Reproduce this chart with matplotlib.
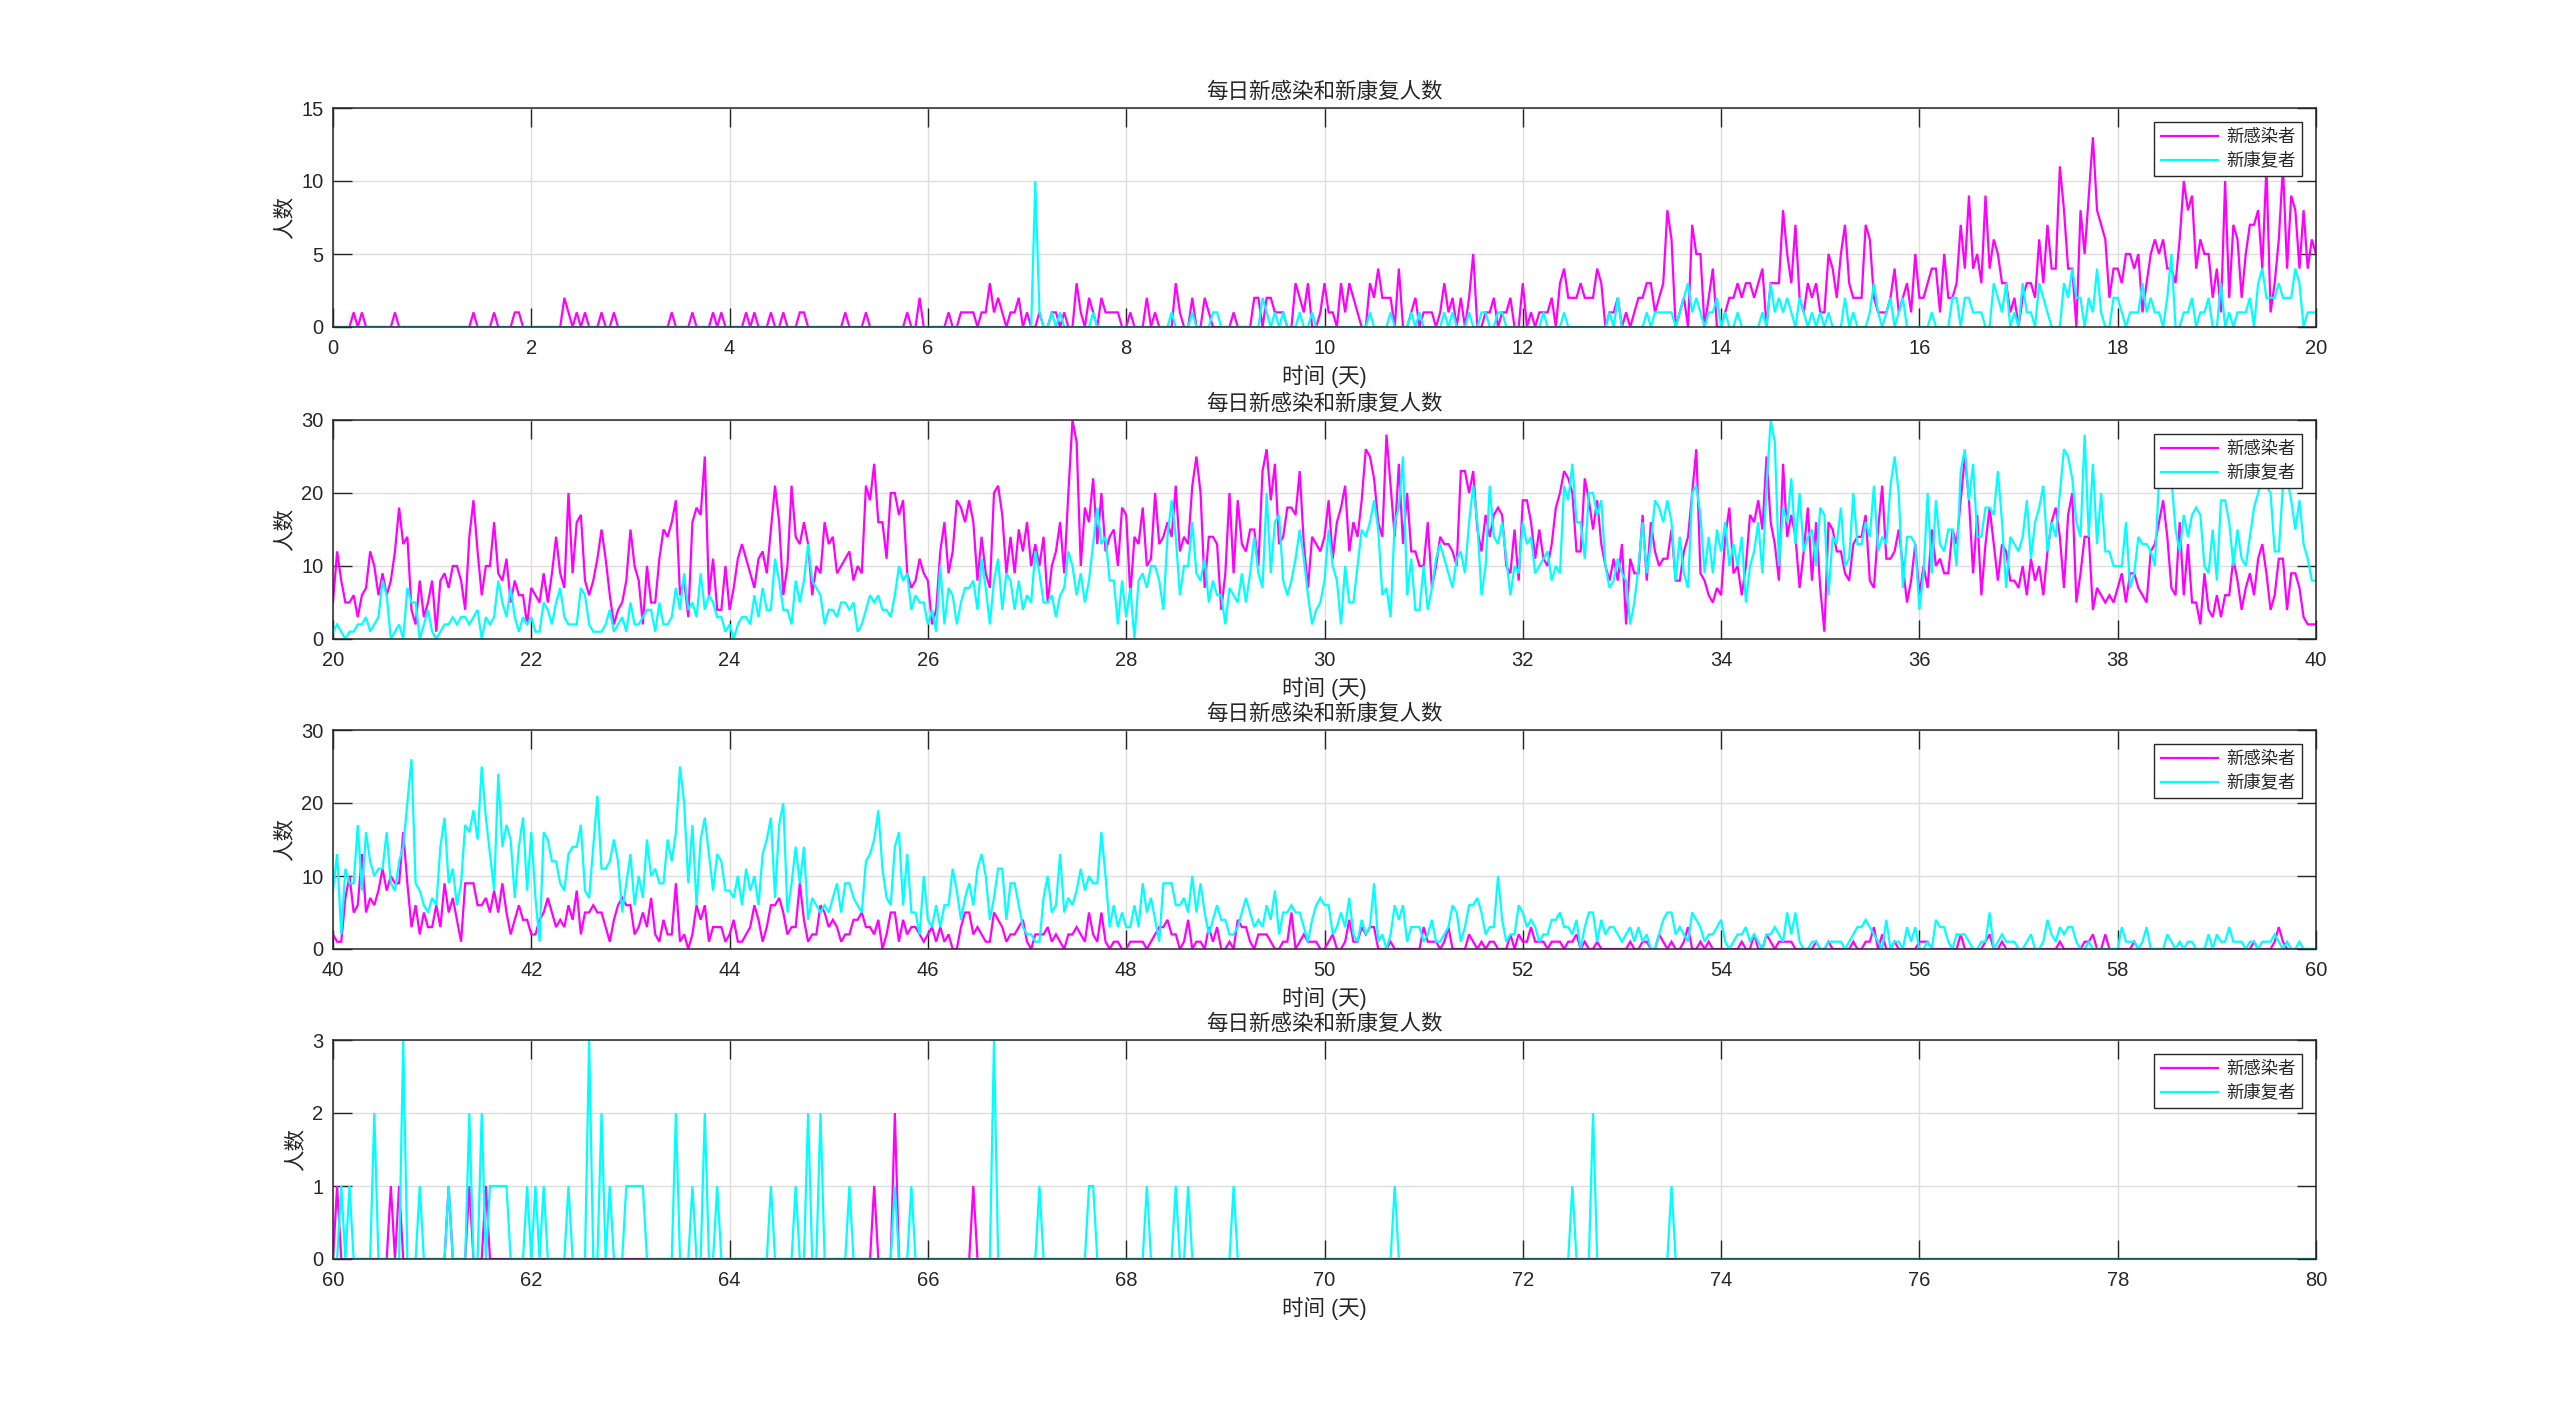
import numpy as np
import matplotlib
matplotlib.use("Agg")
import matplotlib.pyplot as plt

plt.rcParams['font.family'] = ['Liberation Sans', 'Noto Sans CJK SC', 'DejaVu Sans']

# ---------------- data (hourly samples, 24 per day) ----------------
TITLE = "每日新感染和新康复人数"
XLABEL = "时间 (天)"
YLABEL = "人数"
LABEL_INF = "新感染者"
LABEL_REC = "新康复者"
STEPS_PER_DAY = 24

# panel 1 : days 0-20
inf_0_20 = [
    0,0,0,0,0,1,0,1,0,0,0,0,0,0,0,1,0,0,0,0,0,0,0,0,
    0,0,0,0,0,0,0,0,0,0,1,0,0,0,0,1,0,0,0,0,1,1,0,0,
    0,0,0,0,0,0,0,0,2,1,0,1,0,1,0,0,0,1,0,0,1,0,0,0,
    0,0,0,0,0,0,0,0,0,0,1,0,0,0,0,1,0,0,0,0,1,0,1,0,
    0,0,0,0,1,0,1,0,0,0,1,0,0,1,0,0,0,1,1,0,0,0,0,0,
    0,0,0,0,1,0,0,0,0,1,0,0,0,0,0,0,0,0,0,1,0,0,2,0,
    0,0,0,0,0,1,0,0,1,1,1,1,0,1,1,3,1,2,1,0,1,1,2,0,
    1,0,0,1,0,0,1,1,0,1,0,0,3,1,0,2,1,0,2,1,1,1,1,0,
    0,1,0,0,0,2,0,1,0,0,0,0,3,1,0,0,2,0,0,2,1,0,0,0,
    0,0,1,0,0,0,0,2,2,0,2,2,1,1,1,0,0,3,2,1,3,0,0,1,
    3,1,1,0,3,1,3,2,1,0,0,3,2,4,2,2,2,0,4,0,0,1,2,0,
    1,1,1,0,1,3,1,2,0,2,0,2,5,0,0,1,1,2,0,1,1,2,0,0,
    3,0,1,0,1,1,1,2,0,3,4,2,2,2,3,2,2,2,4,3,0,1,1,2,
    0,1,0,1,2,2,3,3,1,2,3,8,6,0,1,2,0,7,5,5,0,2,4,0,
    0,1,2,2,3,2,3,3,2,3,4,0,3,3,3,8,5,3,7,2,1,3,2,3,
    1,1,5,4,2,5,7,3,2,2,2,7,6,2,1,1,1,2,4,1,2,3,1,5,
    2,2,3,4,4,1,5,2,2,3,7,4,9,4,5,3,9,4,6,5,3,3,1,2,
    0,2,3,3,2,6,3,7,4,4,11,8,4,4,0,8,5,9,13,8,7,6,2,4,
    4,3,5,5,4,5,1,3,5,6,5,6,4,4,3,6,10,8,9,4,6,5,5,2,
    4,1,10,2,7,6,2,5,7,7,8,4,11,1,3,6,11,4,9,8,4,8,4,6,
    5]
rec_0_20 = [
    0,0,0,0,0,0,0,0,0,0,0,0,0,0,0,0,0,0,0,0,0,0,0,0,
    0,0,0,0,0,0,0,0,0,0,0,0,0,0,0,0,0,0,0,0,0,0,0,0,
    0,0,0,0,0,0,0,0,0,0,0,0,0,0,0,0,0,0,0,0,0,0,0,0,
    0,0,0,0,0,0,0,0,0,0,0,0,0,0,0,0,0,0,0,0,0,0,0,0,
    0,0,0,0,0,0,0,0,0,0,0,0,0,0,0,0,0,0,0,0,0,0,0,0,
    0,0,0,0,0,0,0,0,0,0,0,0,0,0,0,0,0,0,0,0,0,0,0,0,
    0,0,0,0,0,0,0,0,0,0,0,0,0,0,0,0,0,0,0,0,0,0,0,0,
    0,0,10,1,0,0,1,0,1,0,0,0,0,0,0,0,1,0,0,0,0,0,0,0,
    0,0,0,0,0,0,0,0,0,0,0,1,0,0,0,0,1,0,0,0,0,1,1,0,
    0,0,0,0,0,0,0,0,0,2,1,0,1,0,1,0,0,0,1,0,0,1,0,0,
    0,0,0,0,0,0,0,0,0,0,0,1,0,0,0,0,1,0,0,0,0,1,0,1,
    0,0,0,0,0,1,0,1,0,0,0,1,0,0,1,1,0,0,1,1,0,0,0,0,
    0,0,0,0,0,1,0,0,0,0,1,0,0,0,0,0,0,0,0,0,0,1,0,2,
    0,0,0,0,0,0,1,0,1,1,1,1,1,0,1,2,3,1,2,1,0,1,1,2,
    0,1,0,0,1,0,0,0,0,0,1,0,3,1,2,1,2,1,0,2,1,0,1,0,
    1,0,1,0,0,0,2,0,1,0,0,0,1,3,1,0,1,2,0,1,2,0,0,0,
    0,0,0,1,0,0,0,0,2,2,0,2,2,1,1,1,0,0,3,2,1,3,0,1,
    0,3,1,1,0,3,2,1,0,0,0,3,2,4,2,2,0,2,1,4,1,0,0,2,
    2,1,0,1,1,1,3,1,2,1,1,0,2,5,0,0,1,1,2,0,1,1,2,0,
    0,3,0,1,0,1,1,1,2,0,3,4,2,2,2,3,2,2,2,4,3,0,1,1,
    1]

# panel 2 : days 20-40
inf_20_40 = [
    5,12,8,5,5,6,3,6,7,12,10,6,9,6,8,12,18,13,14,4,2,8,3,5,8,1,8,9,7,10,10,8,4,14,19,12,6,10,10,16,
    9,8,11,5,8,6,6,2,7,6,5,9,5,9,14,9,7,20,9,16,17,8,6,8,11,15,11,6,2,4,5,8,15,10,8,2,10,5,5,11,
    15,14,16,19,6,8,3,16,18,17,25,6,11,4,4,10,4,
    7,11,13,11,9,7,11,12,9,15,21,16,6,10,21,14,13,16,13,6,10,9,16,13,14,9,10,11,12,8,10,9,21,19,24,16,
    16,11,20,20,17,19,9,7,8,11,9,8,2,4,12,16,9,12,19,18,16,19,16,8,14,9,7,20,21,17,9,14,9,15,12,16,
    10,13,10,14,5,10,12,16,9,20,30,27,10,18,16,22,13,20,12,14,15,10,18,17,
    6,14,13,18,10,11,20,13,14,16,14,21,12,14,13,21,25,20,7,14,14,13,4,9,20,9,19,13,12,15,15,10,23,26,
    19,24,13,14,18,18,17,23,13,7,14,13,12,14,19,11,16,18,21,12,16,14,19,26,25,22,16,14,28,21,14,24,
    13,20,12,12,10,10,16,7,10,14,13,13,12,10,23,23,20,23,15,12,17,14,17,18,17,10,9,15,8,19,
    19,16,11,15,11,10,13,18,20,23,22,20,12,12,22,19,15,19,13,10,8,11,8,13,2,11,9,9,17,8,16,12,10,11,
    11,15,8,8,12,14,20,26,9,8,6,5,7,6,14,18,9,10,6,10,17,16,19,15,25,16,13,8,24,14,17,14,7,12,18,8,
    16,7,1,16,15,12,12,9,8,13,14,14,17,8,7,15,21,11,11,12,15,10,5,8,13,6,
    10,7,15,10,11,9,9,15,13,19,25,19,9,17,6,13,18,13,8,13,12,8,8,7,10,6,11,8,10,6,12,16,18,14,7,17,
    20,5,9,14,14,4,7,6,5,6,5,7,9,5,9,9,7,6,5,12,13,16,19,14,7,6,16,6,13,5,5,2,9,4,3,6,3,6,6,11,
    8,4,7,9,6,11,13,9,4,6,11,11,4,9,9,7,3,2,2,2]
rec_20_40 = [
    1,2,1,0,1,1,2,2,3,1,2,3,8,6,0,1,2,0,7,5,5,0,2,4,1,0,1,2,2,3,2,3,3,2,3,4,0,3,2,3,
    8,5,3,7,3,1,3,2,3,1,1,5,4,2,5,7,3,2,2,2,7,6,2,1,1,1,2,4,1,2,3,1,5,2,2,3,4,4,1,5,
    2,2,3,7,4,9,4,5,3,9,4,6,5,3,3,1,2,
    0,2,3,3,2,6,3,7,4,4,11,8,4,4,2,8,5,8,13,8,7,6,2,4,4,3,5,5,4,5,1,2,4,6,5,6,4,4,3,6,
    10,8,9,4,6,5,5,2,4,1,10,2,7,6,2,5,7,7,8,4,11,7,2,8,11,4,9,8,4,8,4,6,5,12,9,5,5,6,3,6,
    7,12,10,6,9,5,8,13,18,13,14,8,8,2,8,3,
    7,0,8,9,7,10,10,8,4,14,19,14,6,10,10,16,9,8,11,5,8,6,6,2,7,6,5,9,5,9,14,9,7,20,9,16,
    17,8,6,8,11,15,11,6,2,4,5,8,15,10,8,2,10,5,5,10,15,14,16,19,15,6,7,3,16,18,25,6,11,4,
    4,10,4,7,11,13,11,9,7,11,12,9,16,21,16,6,10,21,14,13,16,11,6,10,9,16,
    13,14,9,10,11,12,8,10,9,21,19,24,16,16,11,20,20,17,19,10,7,8,11,9,8,2,5,10,16,9,13,19,
    18,16,19,16,8,14,9,7,20,21,17,9,14,9,15,12,16,10,13,10,14,5,10,12,16,9,21,30,27,10,18,16,
    22,13,20,12,14,15,10,18,17,6,14,13,18,10,11,20,13,13,16,14,21,12,14,13,21,25,20,7,14,14,13,4,
    9,20,9,19,13,12,15,15,10,23,26,19,24,14,14,18,18,17,23,16,7,14,13,12,14,19,11,16,18,21,
    12,16,14,20,26,25,22,16,14,28,14,24,13,20,12,12,10,10,10,16,7,9,14,13,13,12,10,22,25,21,
    22,15,12,17,14,17,18,17,10,9,15,8,19,19,16,10,15,11,10,14,18,20,22,21,20,12,12,21,22,19,
    15,19,13,11,8,8]

# panel 3 : days 40-60
inf_40_60 = [
    2,1,1,7,10,5,6,13,5,7,6,8,11,8,10,9,9,16,9,3,6,2,5,3,3,6,3,9,5,7,4,1,9,9,9,6,6,7,5,8,
    5,9,5,2,4,6,4,4,2,2,4,5,7,5,3,4,3,6,4,8,2,5,5,6,5,5,3,1,4,6,7,6,6,2,3,5,3,7,2,1,
    4,2,2,9,1,2,0,2,6,4,6,1,3,3,3,1,2,4,1,1,2,3,6,4,1,3,6,6,7,5,2,3,3,9,4,1,2,2,6,5,
    3,4,3,1,2,2,4,4,5,3,3,2,4,0,2,5,5,1,4,2,3,3,2,1,2,3,1,3,1,2,0,0,3,5,5,2,3,2,1,1,
    5,4,3,1,2,2,3,4,1,0,2,2,2,3,1,2,1,0,2,2,3,2,1,5,2,1,5,1,0,1,1,0,0,1,1,1,1,0,1,2,
    3,3,4,2,2,0,1,4,0,1,1,0,3,1,3,0,0,1,0,4,3,3,1,0,2,2,2,1,0,0,1,1,5,0,1,2,1,1,1,0,
    0,
    1,2,0,0,1,4,1,1,3,2,3,3,0,0,0,1,0,0,0,0,0,0,0,3,1,1,1,0,1,3,0,0,0,0,2,1,0,1,0,1,
    1,0,0,0,2,0,2,1,1,3,1,1,1,0,1,1,1,0,1,1,2,0,1,0,0,1,0,0,0,0,0,0,0,1,0,0,1,1,0,0,
    2,1,0,1,0,0,1,3,0,0,1,0,1,0,0,0,0,0,0,0,1,0,0,2,0,0,2,1,0,1,1,1,1,0,0,0,0,0,1,0,
    0,1,0,0,0,0,0,1,0,0,1,1,3,0,2,0,0,1,0,0,0,0,0,1,1,1,0,0,0,0,0,0,0,2,0,0,0,0,0,1,
    2,0,0,1,0,0,0,0,0,0,0,0,0,0,0,0,0,1,0,0,0,0,0,1,1,2,0,0,2,0,0,0,0,0,0,1,0,0,0,0,
    0,0,0,0,0,0,0,0,0,0,0,0,0,0,0,0,0,0,0,0,0,0,0,0,1,0,0,0,0,1,3,1,0,0,0,0,0,0,0,0]
rec_40_60 = [
    8,13,2,11,9,9,17,8,16,12,10,11,11,16,9,8,12,14,20,26,9,8,6,5,7,6,14,18,9,11,6,9,17,16,19,15,25,18,13,8,
    24,14,17,15,7,14,18,8,16,7,1,16,15,12,12,9,8,13,14,14,17,8,7,14,21,11,11,12,15,12,5,9,13,6,10,7,15,10,11,9,
    9,15,12,16,25,20,9,17,6,15,18,13,8,13,12,8,8,7,10,6,11,8,10,6,13,15,18,7,17,20,5,9,14,9,14,4,7,6,5,6,
    5,7,9,5,9,9,7,6,5,12,13,15,19,11,7,6,14,16,6,13,5,5,2,10,4,3,6,3,6,6,11,8,4,7,9,6,11,13,10,4,
    7,11,11,4,9,9,6,3,2,2,1,1,7,10,5,6,13,5,7,6,8,11,8,10,9,9,16,10,3,6,3,5,3,3,6,3,9,5,7,4,
    1,9,9,9,6,6,7,5,10,5,9,5,2,4,6,4,4,2,2,3,5,7,5,3,4,3,6,4,8,2,5,5,6,5,5,3,1,4,6,7,
    6,
    6,2,3,5,3,7,2,1,4,2,3,9,1,2,0,2,6,4,6,1,3,3,3,1,2,4,1,1,2,3,6,5,1,3,6,6,7,5,2,3,
    3,10,4,1,2,2,6,5,3,4,3,1,2,2,4,4,5,3,3,2,4,0,3,5,5,1,4,2,3,3,2,1,2,3,1,3,1,2,0,0,
    2,4,5,5,2,3,2,1,5,4,3,1,2,2,3,4,1,0,1,2,2,3,1,2,1,0,2,2,3,2,1,5,2,5,1,0,0,1,1,0,
    0,1,1,1,1,0,1,2,3,3,4,3,2,1,0,4,0,1,1,0,3,1,3,0,0,1,0,4,3,3,1,0,2,2,2,1,0,0,1,1,
    5,0,1,2,1,1,1,0,0,1,2,0,0,1,4,2,1,3,2,3,3,1,0,0,1,0,0,0,0,0,0,0,3,1,1,1,0,1,3,0,
    0,0,0,2,1,0,1,0,1,1,0,0,0,2,0,2,1,1,3,1,1,1,0,1,1,0,1,1,1,2,1,0,1,0,0,1,0,0,0,0]

# panel 4 : days 60-80
inf_60_80 = [
    0,1,0,0,0,0,0,0,0,0,0,0,0,0,1,0,1,0,0,0,0,0,0,0,
    0,0,0,0,1,0,0,0,0,1,0,0,0,1,0,0,0,0,0,0,0,0,0,0,
    0,0,0,0,0,0,0,0,0,0,0,0,0,0,0,0,0,0,0,0,0,0,0,0,
    0,0,0,0,0,0,0,0,0,0,0,0,0,0,0,0,0,0,0,0,0,0,0,0,
    0,0,0,0,0,0,0,0,0,0,0,0,0,0,0,0,0,0,0,0,0,0,0,0,
    0,0,0,0,0,0,0,0,0,0,0,1,0,0,0,0,2,0,0,0,0,0,0,0,
    0,0,0,0,0,0,0,0,0,0,0,1,0,0,0,0,0,0,0,0,0,0,0,0,
    0,0,0,0,0,0,0,0,0,0,0,0,0,0,0,0,0,0,0,0,0,0,0,0,
    0,0,0,0,0,0,0,0,0,0,0,0,0,0,0,0,0,0,0,0,0,0,0,0,
    0,0,0,0,0,0,0,0,0,0,0,0,0,0,0,0,0,0,0,0,0,0,0,0,
    0,0,0,0,0,0,0,0,0,0,0,0,0,0,0,0,0,0,0,0,0,0,0,0,
    0,0,0,0,0,0,0,0,0,0,0,0,0,0,0,0,0,0,0,0,0,0,0,0,
    0,0,0,0,0,0,0,0,0,0,0,0,0,0,0,0,0,0,0,0,0,0,0,0,
    0,0,0,0,0,0,0,0,0,0,0,0,0,0,0,0,0,0,0,0,0,0,0,0,
    0,0,0,0,0,0,0,0,0,0,0,0,0,0,0,0,0,0,0,0,0,0,0,0,
    0,0,0,0,0,0,0,0,0,0,0,0,0,0,0,0,0,0,0,0,0,0,0,0,
    0,0,0,0,0,0,0,0,0,0,0,0,0,0,0,0,0,0,0,0,0,0,0,0,
    0,0,0,0,0,0,0,0,0,0,0,0,0,0,0,0,0,0,0,0,0,0,0,0,
    0,0,0,0,0,0,0,0,0,0,0,0,0,0,0,0,0,0,0,0,0,0,0,0,
    0,0,0,0,0,0,0,0,0,0,0,0,0,0,0,0,0,0,0,0,0,0,0,0,
    0]
rec_60_80 = [
    0,0,1,0,1,0,0,0,0,0,2,0,0,0,0,0,0,3,0,0,0,1,0,0,
    0,0,0,0,1,0,0,0,0,2,0,0,2,0,1,1,1,1,1,0,0,0,0,1,
    0,1,0,1,0,0,0,0,0,1,0,0,0,0,3,0,0,2,0,1,0,0,0,1,
    1,1,1,1,0,0,0,0,0,0,0,2,0,0,0,1,0,0,2,0,0,1,0,0,
    0,0,0,0,0,0,0,0,0,0,1,0,0,0,0,0,1,0,0,2,0,0,2,0,
    0,0,0,0,0,1,0,0,0,0,0,0,0,0,0,0,1,0,0,0,1,0,0,0,
    0,0,0,0,0,0,0,0,0,0,0,0,0,0,0,0,3,0,0,0,0,0,0,0,
    0,0,0,1,0,0,0,0,0,0,0,0,0,0,0,1,1,0,0,0,0,0,0,0,
    0,0,0,0,0,1,0,0,0,0,0,0,1,0,0,1,0,0,0,0,0,0,0,0,
    0,0,1,0,0,0,0,0,0,0,0,0,0,0,0,0,0,0,0,0,0,0,0,0,
    0,0,0,0,0,0,0,0,0,0,0,0,0,0,0,0,0,1,0,0,0,0,0,0,
    0,0,0,0,0,0,0,0,0,0,0,0,0,0,0,0,0,0,0,0,0,0,0,0,
    0,0,0,0,0,0,0,0,0,0,0,0,1,0,0,0,0,2,0,0,0,0,0,0,
    0,0,0,0,0,0,0,0,0,0,0,0,1,0,0,0,0,0,0,0,0,0,0,0,
    0,0,0,0,0,0,0,0,0,0,0,0,0,0,0,0,0,0,0,0,0,0,0,0,
    0,0,0,0,0,0,0,0,0,0,0,0,0,0,0,0,0,0,0,0,0,0,0,0,
    0,0,0,0,0,0,0,0,0,0,0,0,0,0,0,0,0,0,0,0,0,0,0,0,
    0,0,0,0,0,0,0,0,0,0,0,0,0,0,0,0,0,0,0,0,0,0,0,0,
    0,0,0,0,0,0,0,0,0,0,0,0,0,0,0,0,0,0,0,0,0,0,0,0,
    0,0,0,0,0,0,0,0,0,0,0,0,0,0,0,0,0,0,0,0,0,0,0,0,
    0]

panel_starts = [0, 20, 40, 60]
panel_inf = [inf_0_20, inf_20_40, inf_40_60, inf_60_80]
panel_rec = [rec_0_20, rec_20_40, rec_40_60, rec_60_80]
panel_ymax = [15, 30, 30, 3]
panel_yticks = [[0, 5, 10, 15], [0, 10, 20, 30], [0, 10, 20, 30], [0, 1, 2, 3]]

# ---------------- drawing ----------------
W, H = 2560, 1420
fig = plt.figure(figsize=(W / 100, H / 100), dpi=100)
fig.patch.set_facecolor('white')

ax_left = 333 / W
ax_width = (2316 - 333) / W
ax_tops = [108, 420, 730, 1040]
ax_h = 219

INK = '#262626'
MAGENTA = '#FF00FF'
CYAN = '#00FFFF'

for i in range(4):
    top = ax_tops[i]
    ax = fig.add_axes([ax_left, 1 - (top + ax_h) / H, ax_width, ax_h / H])
    t0 = panel_starts[i]
    inf = np.asarray(panel_inf[i], dtype=float)
    rec = np.asarray(panel_rec[i], dtype=float)
    t_inf = t0 + np.arange(len(inf)) / STEPS_PER_DAY
    t_rec = t0 + np.arange(len(rec)) / STEPS_PER_DAY
    ax.plot(t_inf, inf, color=MAGENTA, lw=1.6, label=LABEL_INF, solid_joinstyle='miter')
    ax.plot(t_rec, rec, color=CYAN, lw=1.6, label=LABEL_REC, solid_joinstyle='miter')

    ax.set_xlim(t0, t0 + 20)
    ax.set_ylim(0, panel_ymax[i])
    ax.set_xticks(np.arange(t0, t0 + 21, 2))
    ax.set_yticks(panel_yticks[i])
    ax.grid(True, color='#dedede', lw=1.0)
    ax.set_axisbelow(True)
    ax.tick_params(direction='in', length=14, width=1.0, top=True, right=True,
                   labelsize=14.5, colors=INK)
    ax.tick_params(axis='x', pad=9)
    ax.tick_params(axis='y', pad=7)
    for sp in ax.spines.values():
        sp.set_color(INK)
        sp.set_linewidth(1.1)

    ax.set_title(TITLE, fontsize=15.5, color=INK, pad=7,
                 family=['Noto Sans CJK SC', 'DejaVu Sans'])
    ax.set_xlabel(XLABEL, fontsize=15.5, color=INK, labelpad=5,
                  family=['Liberation Sans', 'Noto Sans CJK SC'])
    ax.set_ylabel(YLABEL, fontsize=15.5, color=INK, labelpad=4,
                  family=['Noto Sans CJK SC', 'DejaVu Sans'])

    leg = ax.legend(loc='upper right', frameon=True, fancybox=False,
                    framealpha=1, edgecolor=INK, borderaxespad=0.8,
                    handlelength=3.3, handletextpad=0.5, labelspacing=0.35,
                    borderpad=0.35,
                    prop={'family': ['Noto Sans CJK SC', 'DejaVu Sans'], 'size': 12.5})
    leg.get_frame().set_linewidth(1.0)
    for txt in leg.get_texts():
        txt.set_color(INK)

fig.savefig('out.png', dpi=100, facecolor='white')
